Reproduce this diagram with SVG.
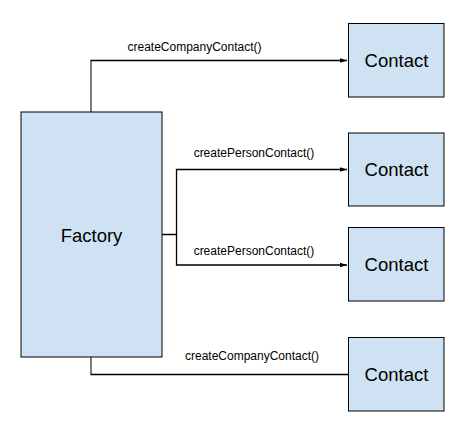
<svg xmlns="http://www.w3.org/2000/svg" width="471" height="427" viewBox="0 0 471 427">
<style>
.box{fill:#cfe2f3;stroke:#000;stroke-width:1}
.big{font-family:"Liberation Sans",Arial,sans-serif;font-size:18.5px;fill:#000;text-anchor:middle}
.lbl{font-family:"Liberation Sans",Arial,sans-serif;font-size:12px;fill:#000;text-anchor:middle}
.ln{fill:none;stroke:#000;stroke-width:1.3}
.gr{fill:none;stroke:#6f6f6f;stroke-width:1.8}
</style>
<defs>
<marker id="ah" markerWidth="8" markerHeight="6" refX="7" refY="3" orient="auto" markerUnits="userSpaceOnUse">
<path d="M0,0.8 L7,3 L0,5.2 Z" fill="#000"/>
</marker>
</defs>
<rect width="471" height="427" fill="#fff"/>
<g id="connectors">
<path class="gr" d="M91,112 V60.5"/>
<path class="ln" d="M90.5,60.5 H347" marker-end="url(#ah)"/>
<path class="ln" d="M162,234.5 H176.5 V169.5 H347" marker-end="url(#ah)"/>
<path class="ln" d="M176.5,234.5 V265 H347" marker-end="url(#ah)"/>
<path class="gr" d="M91,357 V374.5"/>
<path class="ln" d="M90.5,374.5 H348"/>
<text class="lbl" x="194.5" y="50.5">createCompanyContact()</text>
<text class="lbl" x="254" y="156.5">createPersonContact()</text>
<text class="lbl" x="254" y="255">createPersonContact()</text>
<text class="lbl" x="252" y="360">createCompanyContact()</text>
</g>
<g id="factory">
<rect class="box" x="21" y="112" width="141" height="245"/>
<text class="big" x="91.5" y="241.5">Factory</text>
</g>
<g id="contact1">
<rect class="box" x="348.5" y="23.5" width="95.5" height="73.5"/>
<text class="big" x="396.5" y="66.7">Contact</text>
</g>
<g id="contact2">
<rect class="box" x="348.5" y="133" width="95.5" height="73"/>
<text class="big" x="396.5" y="176">Contact</text>
</g>
<g id="contact3">
<rect class="box" x="348.5" y="227.5" width="95.5" height="73.5"/>
<text class="big" x="396.5" y="271">Contact</text>
</g>
<g id="contact4">
<rect class="box" x="348.5" y="337.5" width="95.5" height="73.5"/>
<text class="big" x="396.5" y="381">Contact</text>
</g>
</svg>
